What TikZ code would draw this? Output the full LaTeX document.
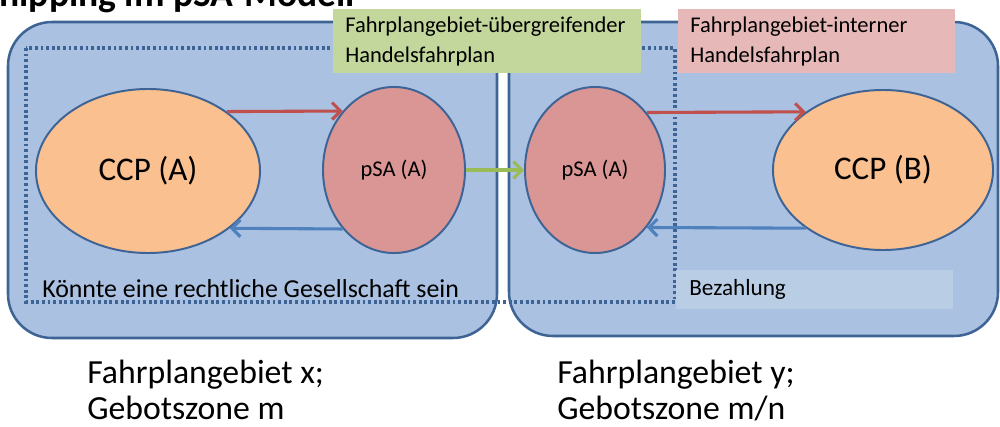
\documentclass[tikz,border=0pt]{standalone}
\usepackage{fontspec}
\setmainfont{Carlito}
\usetikzlibrary{arrows.meta,shapes.geometric}
\definecolor{zoneblue}{RGB}{170,193,225}
\definecolor{edgeblue}{RGB}{62,100,150}
\definecolor{ccporange}{RGB}{250,192,144}
\definecolor{psared}{RGB}{217,150,148}
\definecolor{plangreen}{RGB}{195,214,155}
\definecolor{planpink}{RGB}{230,185,184}
\definecolor{paylight}{RGB}{185,205,229}
\definecolor{arrred}{RGB}{192,80,77}
\definecolor{arrblue}{RGB}{79,129,189}
\definecolor{arrgreen}{RGB}{155,187,89}

\begin{document}
\begin{tikzpicture}[x=0.025cm,y=-0.025cm,
  zone/.style={fill=zoneblue,draw=edgeblue,line width=1.8pt,rounded corners=1.1cm},
  party/.style={ellipse,draw=edgeblue,line width=1.4pt,inner sep=0pt},
  flow/.style={line width=2.2pt,-{Straight Barb[length=6pt,width=12pt]}},
  planbox/.style={anchor=north west,inner xsep=0.3cm,inner ysep=0pt,
    minimum height=1.6cm,align=left,font=\fontsize{16}{21}\selectfont},
  areatext/.style={anchor=base west,inner sep=0pt,align=left,
    font=\fontsize{24}{25.5}\selectfont}]
  \useasboundingbox (0,0) rectangle (1000,427);
  \node[anchor=base east,inner sep=0pt,font=\bfseries\fontsize{26.7}{30}\selectfont]
    (titel) at (355,7) {Shipping im pSA-Modell};
  % Fahrplangebiete
  \draw[zone] (8,22) rectangle (497,338);
  \draw[zone] (509,22) rectangle (998,336);
  \draw[edgeblue,line width=2.3pt,dash pattern=on 2pt off 2pt]
    (26,48) rectangle (675,302);
  \node[anchor=north west,fill=paylight,minimum width=6.925cm,minimum height=0.975cm]
    (zahlbox) at (676,270) {};
  % Akteure
  \node[party,fill=ccporange,minimum width=5.6cm,minimum height=4.1cm,
    font=\fontsize{23.5}{27}\selectfont] (ccpA) at (148,171) {CCP (A)};
  \node[party,fill=psared,minimum width=3.55cm,minimum height=4.15cm,
    font=\fontsize{16}{19}\selectfont] (psaA) at (394,170) {pSA (A)};
  \node[party,fill=psared,minimum width=3.5cm,minimum height=4.15cm,
    font=\fontsize{16}{19}\selectfont] (psaB) at (595,170) {pSA (A)};
  \node[party,fill=ccporange,minimum width=5.5cm,minimum height=4.0cm,
    font=\fontsize{23.5}{27}\selectfont] (ccpB) at (883,170) {CCP (B)};
  \draw[flow,arrred] (ccpA.37) -- (psaA.131);
  \draw[flow,arrblue] (psaA.229) -- (ccpA.325);
  \draw[flow,arrgreen] (psaA.east) -- (psaB.west);
  \draw[flow,arrred] (psaB.48) -- (ccpB.143);
  \draw[flow,arrblue] (ccpB.217) -- (psaB.312);
  % Handelsfahrplaene
  \node[planbox,fill=plangreen,text width=7.1cm] (uebergreifend) at (333,9)
    {Fahrplangebiet-übergreifender\\Handelsfahrplan};
  \node[planbox,fill=planpink,text width=6.325cm] (intern) at (678,9)
    {Fahrplangebiet-interner\\Handelsfahrplan};
  \node[anchor=west,inner sep=0pt,font=\fontsize{18.4}{22}\selectfont]
    (rechtlich) at (42,289) {Könnte eine rechtliche Gesellschaft sein};
  \node[anchor=west,inner sep=0pt,font=\fontsize{16.5}{20}\selectfont]
    (bezahlung) at (689,289) {Bezahlung};
  \node[areatext] (gebietx) at (87,419) {Fahrplangebiet x;\\Gebotszone m};
  \node[areatext] (gebiety) at (557,419) {Fahrplangebiet y;\\Gebotszone m/n};
\end{tikzpicture}
\end{document}
